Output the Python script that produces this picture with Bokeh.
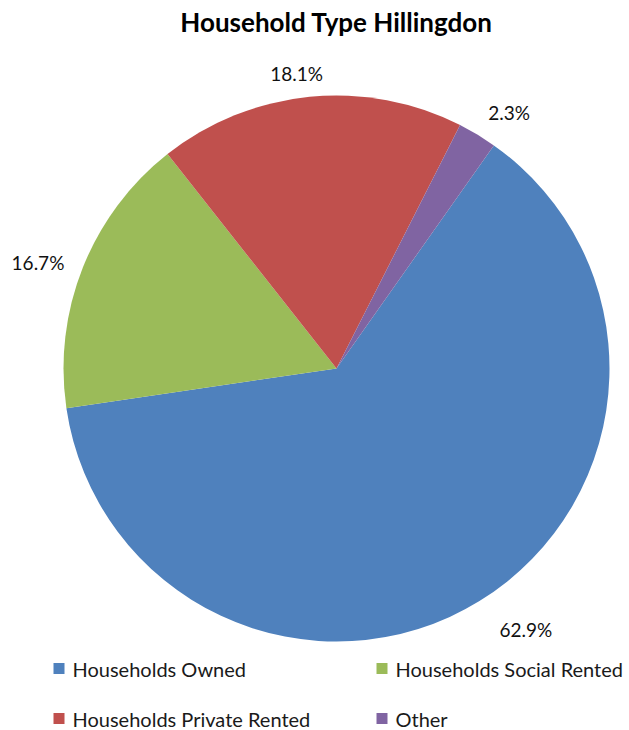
import math
from bokeh.plotting import figure
from bokeh.models import Range1d, ColumnDataSource
from bokeh.core.properties import value
from bokeh.embed import file_html
from bokeh.resources import INLINE

# ---- data ----
categories = ["Households Owned", "Households Social Rented", "Households Private Rented", "Other"]
shares = [62.9, 16.7, 18.1, 2.3]
colors = ["#4F81BD", "#9BBB59", "#C0504D", "#8064A2"]
title_text = "Household Type Hillingdon"

# ---- layout / style ----
W, H = 629, 730
CX, CY, R = 336, 730 - 368, 273          # page coords, y measured upward
FIRST_ANGLE = 35.2                       # degrees clockwise from 12 o'clock
label_polar = [(144.0, 1.18), (289.5, 1.16), (352.3, 1.09), (34.0, 1.13)]
FONT = "Lato"

total = sum(shares)
starts, ends = [], []
acc = FIRST_ANGLE
for s in shares:
    a0 = acc
    a1 = acc + s / total * 360.0
    starts.append(math.radians(90 - a0))
    ends.append(math.radians(90 - a1))
    acc = a1

p = figure(width=W, height=H, output_backend="svg", toolbar_location=None,
           x_range=Range1d(0, W), y_range=Range1d(0, H), min_border=0)
p.axis.visible = False
p.grid.visible = False
p.outline_line_color = None
p.background_fill_color = "white"
p.border_fill_color = "white"

src = ColumnDataSource(dict(start=starts, end=ends, color=colors, cat=categories))
p.wedge(x=CX, y=CY, radius=R, start_angle="start", end_angle="end",
        direction="clock", fill_color="color", line_color=None, source=src)

# percent labels
lx, ly, lt = [], [], []
for s, (ang, fac) in zip(shares, label_polar):
    th = math.radians(ang)
    lx.append(CX + R * fac * math.sin(th))
    ly.append(CY + R * fac * math.cos(th))
    lt.append(f"{s:.1f}%")
p.text(x=lx, y=ly, text=lt, text_font=value(FONT), text_font_size="19px",
       text_align="center", text_baseline="middle", text_color="#111111")

# title
p.text(x=[336], y=[730 - 21], text=[title_text], text_font=value(FONT),
       text_font_size="26px", text_font_style="bold", text_align="center",
       text_baseline="middle", text_color="#000000")

# legend (2 columns x 2 rows)
leg_col_x = [53, 376]
leg_row_y = [668, 718]
sq_x, sq_y, tx, ty = [], [], [], []
for i, cat in enumerate(categories):
    col = i % 2
    row = i // 2
    sq_x.append(leg_col_x[col] + 5.5)
    sq_y.append(730 - leg_row_y[row])
    tx.append(leg_col_x[col] + 19)
    ty.append(730 - leg_row_y[row])
p.rect(x=sq_x, y=sq_y, width=11, height=11, fill_color=colors, line_color=None)
p.text(x=tx, y=ty, text=categories, text_font=value(FONT), text_font_size="20px",
       text_align="left", text_baseline="middle", text_color="#1a1a1a")

open("out.html", "w").write(file_html(p, INLINE))
